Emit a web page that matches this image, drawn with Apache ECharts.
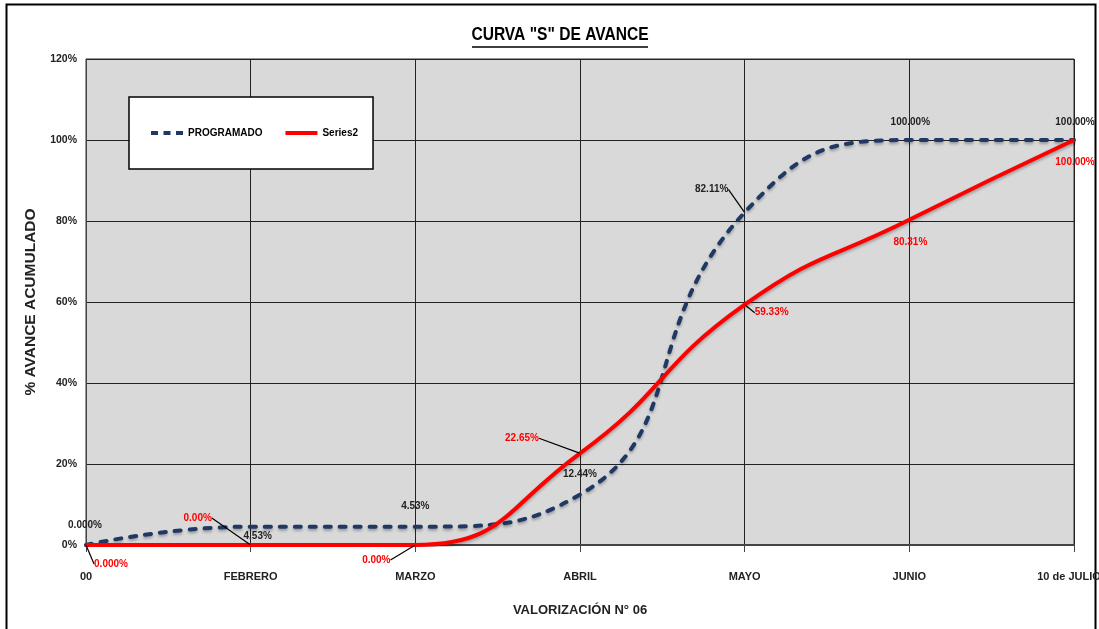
<!DOCTYPE html>
<html>
<head>
<meta charset="utf-8">
<script src="https://cdn.jsdelivr.net/npm/echarts@6/dist/echarts.min.js"></script>
<style>
html,body{margin:0;padding:0;background:#fff;}
#chart{width:1099px;height:629px;}
</style>
</head>
<body>
<div id="chart"></div>
<script>
// ---- data ----
const categories = ['00', 'FEBRERO', 'MARZO', 'ABRIL', 'MAYO', 'JUNIO', '10 de JULIO'];
const programado = [0, 4.53, 4.53, 12.44, 82.11, 100, 100];
const series2 = [0, 0, 0, 22.65, 59.33, 80.31, 100];
const labelDecimals = [3, 2, 2, 2, 2, 2, 2];
const yMin = 0, yMax = 120, yStep = 20;

// ---- label layout (style) ----
const progOffsets = [[-1, -20], [7, 10], [0, -20], [0, -20], [-33, -23], [1, -18], [1, -18]];
const progLeader = [false, false, false, false, true, false, false];
const s2Offsets = [[25, 19], [-53, -27], [-39, 15], [-58, -15], [27, 8], [1, 23], [1, 22]];
const s2Leader = [true, true, true, true, true, false, false];

const FONT = '"Liberation Sans", Arial, sans-serif';

function items(values, leaders) {
  return values.map((v, i) => ({ value: v, labelLine: { show: leaders[i] } }));
}
function fmt(p) {
  return p.value.toFixed(labelDecimals[p.dataIndex]) + '%';
}
const categoryData = categories.map((c, i) =>
  i === categories.length - 1 ? { value: c, textStyle: { padding: [0, 10, 0, 0] } } : c
);

const chart = echarts.init(document.getElementById('chart'));
chart.setOption({
  animation: false,
  backgroundColor: '#fff',
  graphic: [
    { type: 'rect', shape: { x: 6.5, y: 4.5, width: 1089, height: 700 }, style: { fill: 'none', stroke: '#000', lineWidth: 2 }, z: -10, silent: true },
    { type: 'text', x: 560, y: 35, scaleX: 0.82, silent: true,
      style: { text: 'CURVA "S" DE AVANCE', x: 0, y: 0, textAlign: 'center', textVerticalAlign: 'middle', font: 'bold 19px "Liberation Sans", Arial, sans-serif', fill: '#000' } },
    { type: 'line', shape: { x1: 472, y1: 47, x2: 648, y2: 47 }, style: { stroke: '#000', lineWidth: 1.5 }, silent: true }
  ],
  legend: {
    left: 129,
    top: 97,
    padding: [31, 15, 31, 22],
    itemGap: 23,
    itemWidth: 32,
    itemHeight: 4,
    backgroundColor: '#fff',
    borderColor: '#000',
    borderWidth: 1.5,
    textStyle: { fontFamily: FONT, fontSize: 10, fontWeight: 'bold', color: '#000' },
    data: [
      { name: 'PROGRAMADO', icon: 'path://M0,0h7v4h-7z M12.5,0h7v4h-7z M25,0h7v4h-7z' },
      { name: 'Series2', icon: 'rect' }
    ]
  },
  grid: { left: 86, right: 25, top: 59, bottom: 84, outerBoundsMode: 'none', containLabel: false, show: true, backgroundColor: '#d9d9d9', borderColor: '#333', borderWidth: 1 },
  xAxis: {
    type: 'category',
    data: categoryData,
    boundaryGap: false,
    name: 'VALORIZACIÓN N° 06',
    nameLocation: 'middle',
    nameGap: 59,
    nameTextStyle: { fontFamily: FONT, fontSize: 13, fontWeight: 'bold', color: '#222' },
    axisLine: { lineStyle: { color: '#444', width: 2 } },
    axisTick: { show: true, length: 7, lineStyle: { color: '#444' } },
    axisLabel: { fontFamily: FONT, fontSize: 11, fontWeight: 'bold', color: '#222', margin: 26 },
    splitLine: { show: true, lineStyle: { color: '#222', width: 1 } }
  },
  yAxis: {
    type: 'value',
    min: yMin,
    max: yMax,
    interval: yStep,
    name: '% AVANCE ACUMULADO',
    nameLocation: 'middle',
    nameGap: 47,
    nameTextStyle: { fontFamily: FONT, fontSize: 15.5, fontWeight: 'bold', color: '#222' },
    axisLine: { show: true, lineStyle: { color: '#444', width: 1 } },
    axisTick: { show: false },
    axisLabel: { fontFamily: FONT, fontSize: 10.5, fontWeight: 'bold', color: '#222', margin: 9, formatter: '{value}%' },
    splitLine: { show: true, lineStyle: { color: '#222', width: 1 } }
  },
  series: [
    {
      name: 'PROGRAMADO',
      type: 'line',
      smooth: true,
      data: items(programado, progLeader),
      symbol: 'circle',
      symbolSize: 1,
      showSymbol: true,
      itemStyle: { color: '#1f3864' },
      lineStyle: { color: '#1f3864', width: 4, type: [6, 9], cap: 'round', shadowColor: 'rgba(0,0,0,0.3)', shadowBlur: 3, shadowOffsetY: 2 },
      label: { show: true, position: 'inside', formatter: fmt, fontFamily: FONT, fontSize: 10, fontWeight: 'bold', color: '#222' },
      labelLine: { show: true, lineStyle: { color: '#000', width: 1.2 } },
      labelLayout: p => ({ dx: progOffsets[p.dataIndex][0], dy: progOffsets[p.dataIndex][1] }),
      z: 3
    },
    {
      name: 'Series2',
      type: 'line',
      smooth: true,
      data: items(series2, s2Leader),
      symbol: 'circle',
      symbolSize: 1,
      showSymbol: true,
      itemStyle: { color: '#ff0000' },
      lineStyle: { color: '#ff0000', width: 4, shadowColor: 'rgba(0,0,0,0.3)', shadowBlur: 3, shadowOffsetY: 2 },
      label: { show: true, position: 'inside', formatter: fmt, fontFamily: FONT, fontSize: 10, fontWeight: 'bold', color: '#ff0000' },
      labelLine: { show: true, lineStyle: { color: '#000', width: 1.2 } },
      labelLayout: p => ({ dx: s2Offsets[p.dataIndex][0], dy: s2Offsets[p.dataIndex][1] }),
      z: 4
    }
  ]
});
</script>
</body>
</html>
